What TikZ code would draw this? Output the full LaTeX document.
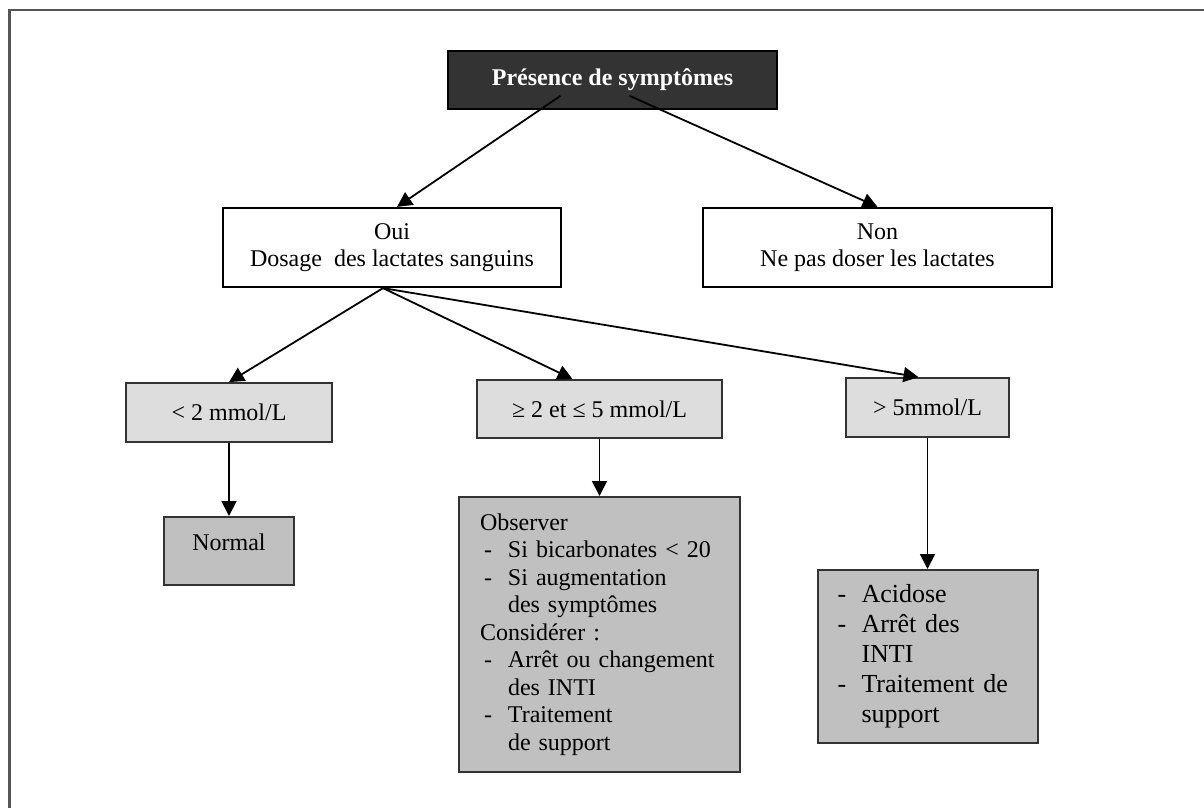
\documentclass[tikz,border=0pt]{standalone}
\usepackage{fontspec}
\setmainfont{Liberation Serif}
\usepackage{tikz}
\usetikzlibrary{arrows.meta,positioning}
\definecolor{sombre}{HTML}{333333}
\definecolor{clair}{HTML}{DDDDDD}
\definecolor{moyen}{HTML}{C0C0C0}
\definecolor{cadre}{HTML}{555555}
\newcommand{\tiret}[2]{\hspace*{#1}\makebox[#2][l]{-}}

\begin{document}
\begin{tikzpicture}[x=1pt,y=-1pt,on grid,
  font=\fontsize{24}{27.5}\selectfont,
  titre/.style={draw=black,line width=1.6pt,fill=sombre,text=white,
    font=\fontsize{24}{27.5}\selectfont\bfseries,
    minimum width=329pt,minimum height=58pt,inner sep=0pt},
  choix/.style={draw=black,line width=2.2pt,fill=white,align=center,
    minimum height=79pt,inner sep=0pt},
  seuil/.style={draw=sombre,line width=1.8pt,fill=clair,
    minimum height=59pt,inner sep=0pt},
  conduite/.style={draw=sombre,line width=2pt,fill=moyen,align=left,
    inner xsep=20pt,inner ysep=0pt},
  arr/.style={-{Triangle[length=15pt,width=15pt]},line width=1.8pt}]
\useasboundingbox (0,0) rectangle (1204,808);
\begin{scope}
\clip (0,0) rectangle (1204,808);
\draw[cadre,line width=2.2pt] (9.5,10) rectangle (1300,900);
\end{scope}

\node[titre] (top) at (612.5,80) {Présence de symptômes};
\node[choix,minimum width=338pt] (oui) [below left=167.5pt and 220.5pt of top]
  {Oui\\Dosage~ des lactates sanguins};
\node[choix,minimum width=349pt] (non) [below right=167.5pt and 265pt of top]
  {Non\\Ne pas doser les lactates};

% niveaux de lactates
\node[seuil,minimum width=206pt] (low) [below left=165pt and 163pt of oui] {< 2 mmol/L};
\node[seuil,minimum width=245pt,minimum height=58pt] (mid) [below right=161.5pt and 207.5pt of oui]
  {≥ 2 et ≤ 5 mmol/L};
\node[seuil,minimum width=163pt] (high) [below right=160pt and 50pt of non] {> 5mmol/L};

% conduite a tenir
\node[conduite,minimum width=130pt,inner xsep=0pt,inner ysep=16pt,
  text height=17pt,text depth=19pt] (normal) [below=138.5pt of low] {Normal};
\node[conduite,text width=239pt,inner xsep=21pt,minimum height=275pt] (obs) [below=225.5pt of mid]
  {Observer\\
   \tiret{4pt}{24pt}Si bicarbonates < 20\\
   \tiret{4pt}{24pt}Si augmentation\\
   \hspace*{28pt}des symptômes\\
   Considérer :\\
   \tiret{4pt}{24pt}Arrêt ou changement\\
   \hspace*{28pt}des INTI\\
   \tiret{4pt}{24pt}Traitement\\
   \hspace*{28pt}de support};
\node[conduite,text width=180pt,minimum height=173pt,
  font=\fontsize{26}{30}\selectfont] (act) [below=249pt of high]
  {\tiret{0pt}{24pt}Acidose\\
   \tiret{0pt}{24pt}Arrêt des\\
   \hspace*{24pt}INTI\\
   \tiret{0pt}{24pt}Traitement de\\
   \hspace*{24pt}support};

\path[arr]
([xshift=-52pt,yshift=14pt]top.south) edge ([xshift=5pt]oui.north)
([xshift=17pt,yshift=14pt]top.south) edge (non.north)

% vers les seuils
([xshift=-9pt]oui.south) edge (low.north)
([xshift=-9pt]oui.south) edge ([xshift=-27pt]mid.north)
([xshift=-9pt]oui.south) edge ([xshift=-9pt]high.north)

% vers les conduites
(low.south) edge (normal.north)
(mid.south) edge (obs.north)
(high.south) edge (act.north)
;
\end{tikzpicture}
\end{document}
